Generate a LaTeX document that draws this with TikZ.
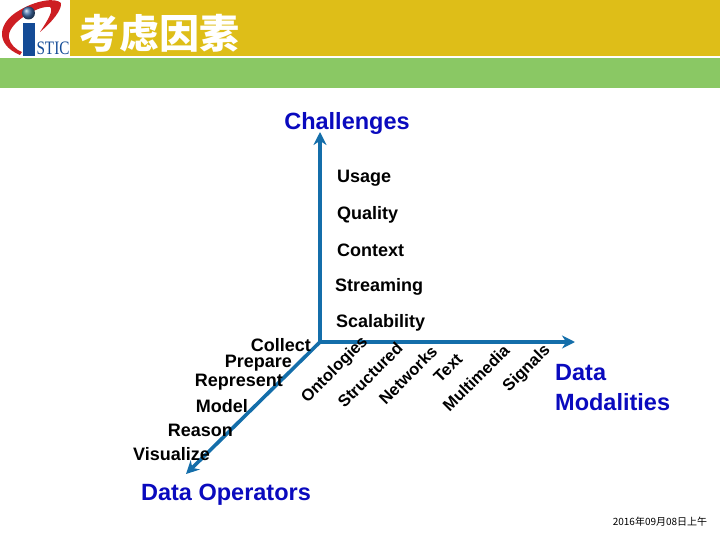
\documentclass[tikz,border=0pt]{standalone}
\usepackage{fontspec}
\setmainfont{Liberation Sans}
\newfontfamily\cjkfont{Noto Sans CJK SC}
\newfontfamily\logofont{Liberation Serif}
\definecolor{bandgold}{RGB}{222,190,24}
\definecolor{bandgreen}{RGB}{138,200,100}
\definecolor{axisblue}{RGB}{20,110,170}
\definecolor{headblue}{RGB}{10,10,190}
\definecolor{logored}{RGB}{205,30,35}
\definecolor{logoblue}{RGB}{20,75,150}
\usetikzlibrary{arrows.meta}
\tikzset{
    axisline/.style={line width=3.6pt, draw=axisblue, -{Stealth[length=13pt,width=13pt]}},
    headtext/.style={font=\fontsize{23.5}{27}\selectfont\bfseries, text=headblue, align=left},
    optext/.style={font=\fontsize{18}{21}\selectfont\bfseries, text=black, inner sep=0pt},
    modtext/.style={font=\fontsize{16.5}{19}\selectfont\bfseries, text=black, inner sep=0pt, rotate=45},
}
\begin{document}
\begin{tikzpicture}[x=1pt, y=-1pt]
    \useasboundingbox (0,0) rectangle (720,540);
    % title band
    \fill[bandgold] (70,0) rectangle (720,56);
    \fill[bandgreen] (0,58) rectangle (720,88);
    \node[font=\fontsize{40}{44}\selectfont\cjkfont\bfseries, text=white, inner sep=0pt] (title) at (159,33) {考虑因素};
    % logo
    \fill[logored] (20,55) .. controls (-6,44) and (-2,22) .. (20,10) .. controls (35,1) and (55,-3) .. (61,3) .. controls (62,10) and (52,22) .. (40,32) .. controls (48,20) and (54,10) .. (50,7) .. controls (38,5) and (6,24) .. (9,38) .. controls (10,44) and (16,50) .. (22,52) -- cycle;
    \fill[logoblue] (23,23) rectangle (35,56);
    \shade[ball color=logoblue!80] (28.5,13) circle (6.5);
    \node[font=\fontsize{19}{20}\selectfont\logofont, text=logoblue, inner sep=0pt, xscale=0.8] (logotext) at (53,48) {STIC};
    % axes
    \coordinate (origin) at (320,342);
    \coordinate (upend) at (320,132);
    \coordinate (rightend) at (575,342);
    \coordinate (downend) at (186,474);
    \draw[axisline] (origin) -- (upend);
    \draw[axisline] (origin) -- (rightend);
    \draw[axisline] (origin) -- (downend);
    % axis names
    \node[headtext] (challenges) at (347,123) {Challenges};
    \node[headtext] (operators) at (226,495) {Data Operators};
    \node[headtext, anchor=west, inner sep=0pt] (modalities) at (555,388) {Data\\[3pt]Modalities};
    % vertical axis
    \node[optext, anchor=west] (usage) at (337,178.5) {Usage};
    \node[optext, anchor=west] (quality) at (337,214.5) {Quality};
    \node[optext, anchor=west] (context) at (337,250) {Context};
    \node[optext, anchor=west] (streaming) at (335,286.5) {Streaming};
    \node[optext, anchor=west] (scalability) at (336,322.5) {Scalability};
    % operators
    \node[optext, anchor=east] (collect) at (311,345.5) {Collect};
    \node[optext, anchor=east] (prepare) at (292,363) {Prepare};
    \node[optext, anchor=east] (represent) at (283,382) {Represent};
    \node[optext, anchor=east] (model) at (248,406) {Model};
    \node[optext, anchor=east] (reason) at (233,430) {Reason};
    \node[optext, anchor=east] (visualize) at (210,454) {Visualize};
    % modalities
    \node[modtext] (ontologies) at (335,370) {Ontologies};
    \node[modtext] (structured) at (370,375) {Structured};
    \node[modtext] (networks) at (408,375) {Networks};
    \node[modtext] (text) at (448,368) {Text};
    \node[modtext] (multimedia) at (476,378) {Multimedia};
    \node[modtext] (signals) at (527,369) {Signals};
    % date
    \node[font=\fontsize{10}{11}\selectfont\cjkfont, inner sep=0pt] (date) at (660,522) {2016年09月08日上午};
\end{tikzpicture}
\end{document}
